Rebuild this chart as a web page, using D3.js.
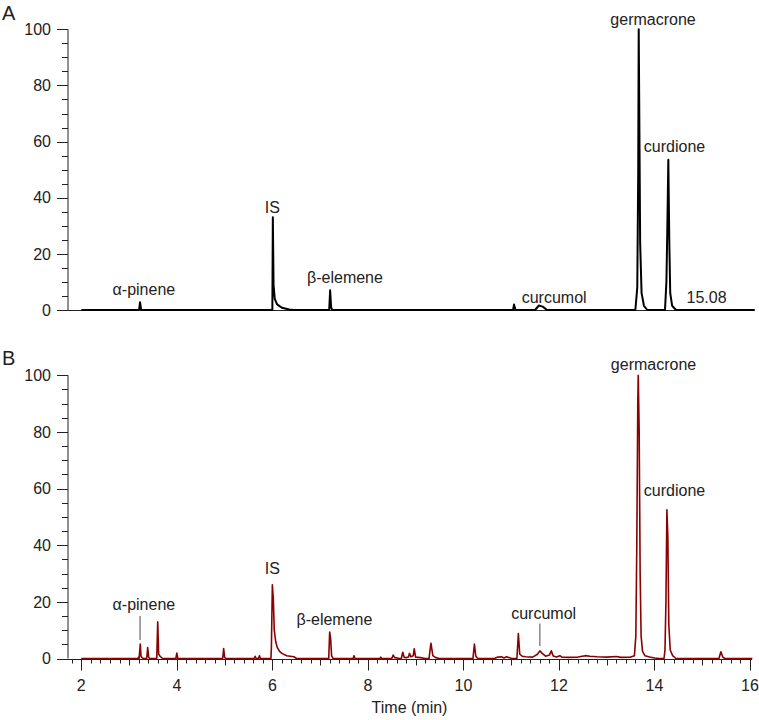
<!DOCTYPE html>
<html><head><meta charset="utf-8">
<script src="https://cdn.jsdelivr.net/npm/d3@7"></script>
<style>body{margin:0;background:#fff}svg{display:block}text{font-family:"Liberation Sans",Arial,sans-serif;fill:#222}</style>
</head><body>
<script>
// ---- data ----
const traceA = [
 [2.0,0],[3.21,0],[3.23,2.8],[3.25,0.3],[3.27,0],
 [6.0,0],[6.01,33],[6.025,9],[6.05,4],[6.1,2],[6.2,0.8],[6.35,0.2],[6.45,0],
 [7.19,0],[7.21,7],[7.23,1],[7.25,0],
 [11.04,0],[11.06,2],[11.09,0],
 [11.5,0],[11.58,1.6],[11.66,1.2],[11.75,0],
 [13.6,0],[13.64,8],[13.66,50],[13.67,100],[13.68,76],[13.70,24],[13.73,6],[13.78,1.5],[13.85,0],
 [14.22,0],[14.25,10],[14.27,30],[14.29,53.5],[14.31,25],[14.33,6],[14.37,1.5],[14.45,0],
 [16.1,0]
];
const traceB = [
 [2.0,0],[3.19,0],[3.2,0.5],[3.21,0],[3.235,5.1],[3.25,0.8],[3.27,0.3],[3.3,0],
 [3.37,0],[3.39,3.9],[3.41,0.5],[3.43,0],
 [3.58,0],[3.6,13],[3.62,1.5],[3.65,0.8],[3.7,0],
 [3.98,0],[4.0,1.9],[4.02,0],
 [4.96,0],[4.98,3.5],[5.0,0.5],[5.02,0],
 [5.62,0],[5.64,0.8],[5.66,0],[5.71,0],[5.73,1],[5.75,0],
 [5.97,0],[5.98,4],[6.0,26],[6.02,21],[6.04,10],[6.07,6],[6.1,4],[6.15,2.5],[6.2,1.8],[6.3,1],[6.45,0.6],[6.5,0.1],[6.55,0],
 [7.18,0],[7.2,9.3],[7.22,7],[7.24,1],[7.27,0],
 [7.69,0],[7.71,1],[7.73,0],
 [8.25,0],[8.27,0.5],[8.29,0],
 [8.5,0],[8.53,1.2],[8.56,0.3],[8.62,0.2],[8.65,0],
 [8.7,0],[8.73,2.2],[8.76,0.4],[8.8,0.3],[8.85,0.5],[8.87,1.8],[8.9,0.6],[8.95,1],[8.97,3.4],[9.0,0.5],[9.1,0.3],[9.2,0],
 [9.28,0],[9.32,5.4],[9.36,1],[9.42,0.3],[9.5,0],
 [10.2,0],[10.23,5.1],[10.26,0.8],[10.3,0],
 [10.65,0],[10.72,0.5],[10.8,0.6],[10.85,0.2],[10.9,0.6],[11.0,0.1],
 [11.12,0],[11.15,8.8],[11.18,1.5],[11.23,0.8],[11.3,0.6],[11.45,0.5],[11.55,1.5],[11.6,2.7],[11.65,1.8],[11.72,0.8],
 [11.8,1.2],[11.84,2.7],[11.88,0.9],[11.95,0.5],[12.02,1],[12.06,0.5],[12.2,0.4],[12.4,0.5],[12.55,1],[12.65,0.8],
 [12.8,0.6],[13.0,0.5],[13.2,0.7],[13.3,0.4],[13.5,0.5],
 [13.58,1],[13.61,8],[13.63,40],[13.65,89],[13.66,100],[13.68,80],[13.7,30],[13.72,8],[13.75,2.5],[13.8,1],[13.9,0.5],[14.0,0.2],[14.1,0],
 [14.2,0],[14.22,3],[14.24,20],[14.26,52.5],[14.28,43],[14.3,12],[14.33,3],[14.38,1],[14.45,0],
 [15.35,0],[15.39,2.4],[15.43,0.5],[15.47,0],
 [16.05,0]
];
const labelsA = [
 {text:"α-pinene", t:3.31, v:5.3},
 {text:"IS", t:6.0, v:34.7},
 {text:"β-elemene", t:7.52, v:9.5},
 {text:"curcumol", t:11.9, v:2.5},
 {text:"germacrone", t:13.97, v:101.5},
 {text:"curdione", t:14.42, v:56.4},
 {text:"15.08", t:15.09, v:2.4}
];
const labelsB = [
 {text:"α-pinene", t:3.31, v:17},
 {text:"IS", t:6.0, v:30},
 {text:"β-elemene", t:7.3, v:11.8},
 {text:"curcumol", t:11.68, v:14},
 {text:"germacrone", t:13.98, v:101.8},
 {text:"curdione", t:14.42, v:57.5}
];
const pointersB = [
 {t:3.23, v0:6.5, v1:15},
 {t:11.6, v0:4.4, v1:12.4}
];
const yMajor = [0,20,40,60,80,100];
const yMinor = d3.range(0,101,5);
const xMajor = [2,4,6,8,10,12,14,16];
const xMinor = d3.range(9,81).map(i=>i/5);   // 1.8 .. 16.0 step 0.2
const xMid = [3,5,7,9,11,13,15];
const xTitle = "Time (min)";

// ---- layout ----
const W=759,H=720;
const svg=d3.select("body").append("svg").attr("width",W).attr("height",H);
const x=d3.scaleLinear().domain([2,16]).range([81.3,750]);
const yA=d3.scaleLinear().domain([0,100]).range([310,29.3]);
const yB=d3.scaleLinear().domain([0,100]).range([658.5,375.3]);
const axisX0=68;

function yAxis(y){
  const g=svg.append("g");
  g.append("line").attr("x1",axisX0).attr("x2",axisX0).attr("y1",y(0)).attr("y2",y(100)).attr("stroke","#222").attr("stroke-width",1);
  g.selectAll(".mn").data(yMinor).join("line").attr("x1",axisX0-6).attr("x2",axisX0).attr("y1",d=>Math.round(y(d))+0.5).attr("y2",d=>Math.round(y(d))+0.5).attr("stroke","#222");
  g.selectAll(".mj").data(yMajor).join("line").attr("x1",axisX0-11).attr("x2",axisX0).attr("y1",d=>Math.round(y(d))+0.5).attr("y2",d=>Math.round(y(d))+0.5).attr("stroke","#222");
  g.selectAll("text").data(yMajor).join("text").attr("x",51).attr("y",d=>y(d)+5.7).attr("text-anchor","end").attr("font-size",16).text(d=>d);
  g.append("line").attr("x1",axisX0).attr("x2",752).attr("y1",Math.round(y(0))+0.5).attr("y2",Math.round(y(0))+0.5).attr("stroke","#222");
}
yAxis(yA); yAxis(yB);

// x axis ticks for panel B
const xb=Math.round(yB(0))+0.5;
svg.append("g").selectAll("line").data(xMinor).join("line").attr("x1",d=>Math.round(x(d))+0.5).attr("x2",d=>Math.round(x(d))+0.5).attr("y1",xb).attr("y2",xb+4).attr("stroke","#222");
svg.append("g").selectAll("line").data(xMid).join("line").attr("x1",d=>Math.round(x(d))+0.5).attr("x2",d=>Math.round(x(d))+0.5).attr("y1",xb).attr("y2",xb+6).attr("stroke","#222");
svg.append("g").selectAll("line").data(xMajor).join("line").attr("x1",d=>Math.round(x(d))+0.5).attr("x2",d=>Math.round(x(d))+0.5).attr("y1",xb).attr("y2",xb+11).attr("stroke","#222");
svg.append("g").selectAll("text").data(xMajor).join("text").attr("x",d=>x(d)).attr("y",690.5).attr("text-anchor","middle").attr("font-size",16).text(d=>d);
svg.append("text").attr("x",409.5).attr("y",712.5).attr("text-anchor","middle").attr("font-size",16).text(xTitle);

// traces
const lineA=d3.line().x(d=>x(d[0])).y(d=>yA(d[1]));
const lineB=d3.line().x(d=>x(d[0])).y(d=>yB(d[1]));
svg.append("path").attr("d",lineA(traceA)).attr("fill","none").attr("stroke","#000").attr("stroke-width",2).attr("stroke-linejoin","round");
svg.append("path").attr("d",lineB(traceB)).attr("fill","none").attr("stroke","#8b0000").attr("stroke-width",1.6).attr("stroke-linejoin","round");

// pointers
svg.append("g").selectAll("line").data(pointersB).join("line").attr("x1",d=>x(d.t)).attr("x2",d=>x(d.t)).attr("y1",d=>yB(d.v0)).attr("y2",d=>yB(d.v1)).attr("stroke","#888").attr("stroke-width",1.5);

// labels
svg.append("g").selectAll("text").data(labelsA).join("text").attr("x",d=>x(d.t)).attr("y",d=>yA(d.v)).attr("text-anchor","middle").attr("font-size",16).text(d=>d.text);
svg.append("g").selectAll("text").data(labelsB).join("text").attr("x",d=>x(d.t)).attr("y",d=>yB(d.v)).attr("text-anchor","middle").attr("font-size",16).text(d=>d.text);

// panel letters
svg.append("text").attr("x",2).attr("y",20).attr("font-size",20).text("A");
svg.append("text").attr("x",2).attr("y",365).attr("font-size",20).text("B");
</script>
</body></html>
